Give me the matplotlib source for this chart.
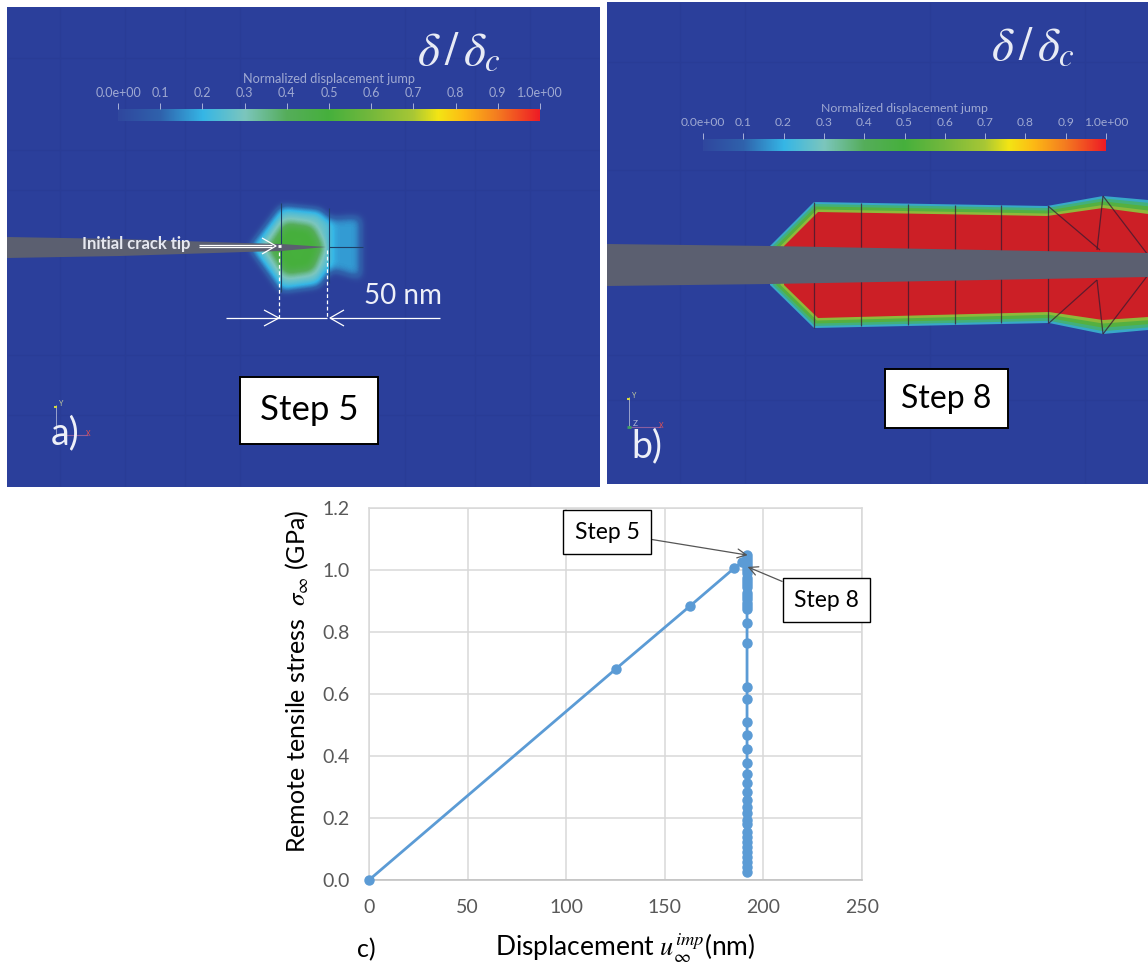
import numpy as np
import matplotlib
matplotlib.use("Agg")
import matplotlib.pyplot as plt
from matplotlib.colors import LinearSegmentedColormap
from matplotlib.patches import Polygon, Rectangle
from matplotlib.path import Path

plt.rcParams['font.family'] = ['Lato', 'DejaVu Sans']
plt.rcParams['mathtext.fontset'] = 'stix'
plt.rcParams['lines.solid_capstyle'] = 'butt'

# curve of panel c
disp_rising = [0, 125, 163, 185, 189]
stress_rising = [0.0, 0.68, 0.885, 1.005, 1.025]
stress_falling = [1.048, 1.04, 1.03, 1.02, 1.01, 1.0, 0.99, 0.975, 0.965, 0.955, 0.945,
                  0.925, 0.915, 0.905, 0.895, 0.885, 0.875, 0.83, 0.765, 0.622, 0.585,
                  0.509, 0.468, 0.423, 0.379, 0.341, 0.312, 0.283, 0.258, 0.236, 0.215,
                  0.194, 0.181, 0.156, 0.14, 0.124, 0.107, 0.091, 0.075, 0.059, 0.043, 0.027]
disp_falling = [191.7] * len(stress_falling)
x_ticks = [0, 50, 100, 150, 200, 250]
y_ticks = [0.0, 0.2, 0.4, 0.6, 0.8, 1.0, 1.2]

# colour bar of the two contour panels
bar_levels = [0.0, 0.1, 0.2, 0.3, 0.4, 0.5, 0.6, 0.7, 0.76, 0.82, 0.9, 1.0]
bar_colors = ['#30479e', '#2f62ac', '#35b6e6', '#7cc6bd', '#55ad5a', '#46b03c', '#74b83c',
              '#a8c735', '#f3e514', '#fdbb14', '#f47c20', '#ee1c25']
bar_labels = ['0.0e+00', '0.1', '0.2', '0.3', '0.4', '0.5', '0.6', '0.7', '0.8', '0.9', '1.0e+00']
bar_ticks = [0.0, 0.1, 0.2, 0.3, 0.4, 0.5, 0.6, 0.7, 0.8, 0.9, 1.0]

BG = '#2b3f9b'
CRACK = '#5b5f70'
cmap = LinearSegmentedColormap.from_list('jump', list(zip(bar_levels, bar_colors)))


def colorbar(ax, x0, x1, y0, y1, size):
    grad = np.linspace(0, 1, 256)[None, :]
    ax.imshow(grad, cmap=cmap, extent=(x0, x1, y1, y0), aspect='auto', zorder=3)
    for t, lab in zip(bar_ticks, bar_labels):
        x = x0 + t * (x1 - x0)
        ax.plot([x, x], [y0 - 6, y0], color='#a9b2d8', lw=0.7, zorder=3)
        ax.text(x, y0 - 16, lab, color='#9fa9d2', fontsize=size, ha='center', va='center', zorder=3)
    ax.text((x0 + x1) / 2, y0 - 30, 'Normalized displacement jump', color='#9fa9d2',
            fontsize=size + 0.2, ha='center', va='center', zorder=3)


def faint_mesh(ax, xs, ys, x0, x1, y0, y1):
    for x in xs:
        ax.plot([x, x], [y0 + 1, y1 - 1], color='#293c96', lw=0.8, zorder=1)
    for y in ys:
        ax.plot([x0 + 1, x1 - 1], [y, y], color='#293c96', lw=0.8, zorder=1)


def step_box(ax, x0, x1, y0, y1, label, size):
    ax.add_patch(Rectangle((x0, y0), x1 - x0, y1 - y0, fc='white', ec='black', lw=1.4, zorder=6))
    ax.text((x0 + x1) / 2, (y0 + y1) / 2, label, fontsize=size, color='black',
            ha='center', va='center', zorder=7)


def triad(ax, x, y, full):
    ax.plot([x, x], [y, y - 30], color='#9aa3cc', lw=0.7, zorder=4)
    ax.text(x + 3, y - 32, 'Y', color='#c8d0a0', fontsize=5, ha='left', va='center', zorder=4)
    ax.plot([x - 2, x + 1], [y - 28, y - 28], color='#d4d840', lw=1.5, zorder=4)
    ax.plot([x, x + 32], [y, y], color='#8a5fa0', lw=0.8, zorder=4)
    ax.text(x + 32, y - 2, 'X', color='#e85050', fontsize=5, ha='center', va='center', zorder=4)
    if full:
        ax.text(x + 4, y - 4, 'Z', color='#b0b8d8', fontsize=6, ha='left', va='center', zorder=4)
        ax.plot([x - 2, x + 2], [y, y], color='#40a060', lw=2, zorder=4)


def soft_blob(ax, shapes, extent, blur):
    # fill the polygons on a pixel grid, smooth with a box filter, colour with the bar colours
    x0, x1, y0, y1 = extent
    xx, yy = np.meshgrid(np.arange(x0, x1), np.arange(y0, y1))
    pts = np.column_stack([xx.ravel(), yy.ravel()])
    field = np.zeros(xx.shape)
    for verts, level in shapes:
        mask = Path(verts).contains_points(pts).reshape(xx.shape)
        field = np.maximum(field, mask * level)
    kernel = np.ones(blur) / blur
    for _ in range(3):
        field = np.apply_along_axis(lambda r: np.convolve(r, kernel, mode='same'), 0, field)
        field = np.apply_along_axis(lambda r: np.convolve(r, kernel, mode='same'), 1, field)
    rgba = cmap(field)
    rgba[..., 3] = np.clip(field / 0.06, 0, 1)
    ax.imshow(rgba, extent=(x0, x1, y1, y0), aspect='auto', zorder=2, interpolation='bilinear')


fig = plt.figure(figsize=(11.48, 9.66), dpi=100, facecolor='white')

# pixel axes for the two contour panels
ax = fig.add_axes([0, 0, 1, 1], zorder=0)

# panel a
ax.add_patch(Rectangle((7, 7), 593, 480, fc=BG, ec='none', zorder=0))
faint_mesh(ax, [60, 125, 185, 240, 405, 475, 530], [58, 150, 190, 355, 415], 7, 600, 7, 487)
left_outer = [(250, 247), (281, 206), (320, 210), (330, 222), (330, 268), (318, 285), (281, 290)]
left_inner = [(268, 247), (285, 222), (312, 226), (322, 247), (312, 270), (285, 274)]
right_lobe = [(326, 218), (360, 216), (360, 278), (326, 268)]
soft_blob(ax, [(left_outer, 0.27), (right_lobe, 0.17), (left_inner, 0.5)], (225, 390, 180, 315), 9)
ax.plot([281, 281], [203, 292], color='#1f3f66', lw=0.8, zorder=3)
ax.plot([329, 329], [208, 283], color='#1f3f66', lw=0.8, zorder=3)
ax.plot([329, 363], [247, 247], color='#1f3f66', lw=0.8, zorder=3)
ax.add_patch(Polygon([(7, 237), (120, 239), (245, 243), (281, 244), (326, 247), (281, 251),
                      (245, 252), (120, 256), (7, 258)], fc=CRACK, ec='none', zorder=4))
colorbar(ax, 118, 540, 109, 121, 9)
ax.text(459, 52, r'$\delta\,/\,\delta_c$', color='#e8ebf5', fontsize=34, ha='center', va='center', zorder=5)
ax.text(136, 244, 'Initial crack tip', color='#e6e8f0', fontsize=12, weight='bold', ha='center', va='center', zorder=5)
ax.plot([199, 272], [245, 245], color='white', lw=0.9, zorder=5)
ax.plot([199, 272], [247, 247], color='white', lw=0.9, zorder=5)
ax.plot([262, 276, 262], [238, 246, 254], color='white', lw=0.9, zorder=5)
ax.plot([278, 281], [246, 246], color='white', lw=2, zorder=5)
ax.plot([279, 279], [252, 318], color='white', lw=0.9, ls=(0, (3, 2)), zorder=5)
ax.plot([327, 327], [250, 318], color='white', lw=0.9, ls=(0, (3, 2)), zorder=5)
ax.plot([226, 327], [318, 318], color='white', lw=0.9, zorder=5)
ax.plot([330, 440], [318, 318], color='white', lw=0.9, zorder=5)
ax.plot([264, 279, 264], [310, 318, 326], color='white', lw=0.9, zorder=5)
ax.plot([344, 330, 344], [310, 318, 326], color='white', lw=0.9, zorder=5)
ax.text(403, 296, '50 nm', color='#eef0f8', fontsize=20, ha='center', va='center', zorder=5)
step_box(ax, 240, 378, 377, 444, 'Step 5', 25)
triad(ax, 56, 435, False)
ax.text(65, 433, 'a)', color='#eef0f8', fontsize=27, ha='center', va='center', zorder=5)

# panel b
ax.add_patch(Rectangle((607, 2), 541, 482, fc=BG, ec='none', zorder=0))
faint_mesh(ax, [680, 745, 930, 1085], [62, 170, 355, 400], 607, 1148, 2, 484)
outer = np.array([(770, 246), (814, 202), (1047, 206), (1103, 196), (1148, 200), (1148, 330),
                  (1103, 334), (1049, 323), (814, 328), (770, 285)], dtype=float)
inner = np.array([(784, 246), (818, 212), (1047, 216), (1103, 208), (1148, 214), (1148, 317),
                  (1103, 320), (1049, 312), (818, 318), (784, 285)], dtype=float)
band_layers = [(0.0, '#38a8c8'), (0.2, '#42b07c'), (0.45, '#55b040'), (0.75, '#8fb83a'), (1.0, '#cc1f26')]
for f, col in band_layers:
    ax.add_patch(Polygon(outer + (inner - outer) * f, fc=col, ec='none', zorder=2))
for x, top, bot in [(814, 202, 328), (861, 203, 326), (908, 204, 325), (955, 205, 324),
                    (1001, 205, 323), (1048, 206, 323)]:
    ax.plot([x, x], [top, bot], color='#3a1a30', lw=0.9, alpha=0.75, zorder=3)
for seg in [[(1048, 206), (1100, 250)], [(1103, 196), (1097, 250)], [(1103, 196), (1148, 255)],
            [(1049, 323), (1097, 280)], [(1103, 334), (1097, 280)], [(1103, 334), (1148, 275)]]:
    ax.plot(*zip(*seg), color='#3a1a30', lw=0.9, alpha=0.75, zorder=3)
ax.add_patch(Polygon([(607, 244), (770, 246), (1148, 253), (1148, 277), (770, 284), (607, 286)],
                     fc=CRACK, ec='none', zorder=4))
colorbar(ax, 703, 1106, 139, 151, 8.7)
ax.text(1033, 47, r'$\delta\,/\,\delta_c$', color='#e8ebf5', fontsize=34, ha='center', va='center', zorder=5)
step_box(ax, 885, 1008, 369, 428, 'Step 8', 23)
triad(ax, 629, 427, True)
ax.text(647, 446, 'b)', color='#eef0f8', fontsize=27, ha='center', va='center', zorder=5)

ax.set_xlim(0, 1148)
ax.set_ylim(966, 0)
ax.axis('off')

# panel c
ax_c = fig.add_axes([369 / 1148, 1 - 880 / 966, 493 / 1148, 372 / 966], zorder=1)
ax_c.set_xlim(0, 250)
ax_c.set_ylim(0, 1.2)
ax_c.plot(disp_rising + disp_falling, stress_rising + stress_falling, color='#5b9bd5', lw=2,
          marker='o', ms=6.5, clip_on=False, zorder=3)
ax_c.set_xticks(x_ticks)
ax_c.set_yticks(y_ticks)
ax_c.set_yticklabels(['%.1f' % v for v in y_ticks])
ax_c.grid(True, color='#d9d9d9', lw=1.1)
ax_c.set_axisbelow(True)
for s in ax_c.spines.values():
    s.set_color('#d9d9d9')
    s.set_linewidth(1.1)
ax_c.spines['bottom'].set_color('#bfbfbf')
ax_c.tick_params(length=0, labelsize=14, labelcolor='#595959')
ax_c.tick_params(axis='x', pad=14)
ax_c.tick_params(axis='y', pad=14)

arrow = dict(arrowstyle='->', color='#555555', lw=0.9, shrinkA=0, shrinkB=0, mutation_scale=16)
box = dict(boxstyle='square,pad=0.5', fc='white', ec='black', lw=1)
ax_c.annotate('Step 5', xy=(192, 1.048), xytext=(120.7, 1.122), fontsize=16.5, color='black',
              ha='center', va='center', bbox=box, arrowprops=arrow, annotation_clip=False)
ax_c.annotate('Step 8', xy=(192, 1.01), xytext=(232, 0.903), fontsize=16.5, color='black',
              ha='center', va='center', bbox=box, arrowprops=arrow, annotation_clip=False)

ax.text(297, 681, r'Remote tensile stress  $\sigma_{\infty}$ (GPa)', rotation=90, fontsize=18,
        color='black', ha='center', va='center')
ax.text(366, 950, 'c)', fontsize=18, color='black', ha='center', va='center')
ax.text(625, 948, r'Displacement $u_{\infty}^{imp}$(nm)', fontsize=19, color='black',
        ha='center', va='center')

fig.savefig('out.png', dpi=100)
